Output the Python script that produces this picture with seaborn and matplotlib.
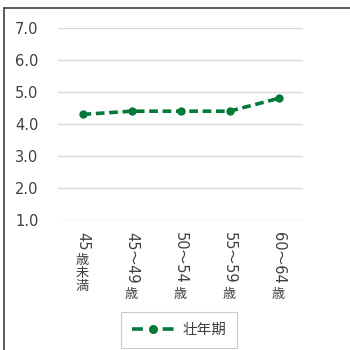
import matplotlib
matplotlib.use("Agg")
import matplotlib.pyplot as plt
from matplotlib.lines import Line2D
import seaborn as sns
import pandas as pd

# --- Data ---
age_groups = ["45歳未満", "45～49歳", "50～54歳", "55～59歳", "60～64歳"]
label_rotated = ["45", "45～49", "50～54", "55～59", "60～64"]
label_upright = ["歳\n未\n満", "歳", "歳", "歳", "歳"]
values = [4.3, 4.4, 4.4, 4.4, 4.8]
series_name = "壮年期"
y_ticks = [1.0, 2.0, 3.0, 4.0, 5.0, 6.0, 7.0]

df = pd.DataFrame({"age": age_groups, "value": values})

# --- Style ---
sns.set_style("white")
plt.rcParams["font.family"] = ["DejaVu Sans", "Noto Sans CJK JP"]
green = "#007a36"
text_color = "#404040"

fig = plt.figure(figsize=(3.5, 3.5), dpi=100)
ax = fig.add_axes([58 / 350, 1 - 220 / 350, 245 / 350, 192 / 350])

sns.lineplot(data=df, x="age", y="value", ax=ax, color=green, sort=False,
             marker="o", markersize=6, markeredgewidth=0, linewidth=2.6,
             linestyle=(0, (2.4, 1.3)), label=series_name, legend=False)

# --- Axes ---
ax.set_xlim(-0.5, len(age_groups) - 0.5)
ax.set_ylim(1.0, 7.0)
ax.set_yticks(y_ticks)
ax.set_yticklabels([f"{v:.1f}" for v in y_ticks], fontsize=10.5, color=text_color)
ax.tick_params(axis="y", length=0, pad=14)
ax.set_xticks([])
ax.set_xlabel("")
ax.set_ylabel("")
ax.grid(axis="y", color="#d9d9d9", linewidth=1)
for s in ax.spines.values():
    s.set_visible(False)

# Vertical category labels: digits rotated, kanji upright
for i, (rot, up) in enumerate(zip(label_rotated, label_upright)):
    t = ax.annotate(rot, xy=(i, 0), xycoords=("data", "axes fraction"),
                    xytext=(0, -8.5), textcoords="offset points",
                    rotation=-90, ha="center", va="top", fontsize=10.5,
                    color=text_color)
    ax.annotate(up, xy=(0.5, 0), xycoords=t, xytext=(0, -3),
                textcoords="offset points", ha="center", va="top",
                fontsize=9.5, color=text_color, linespacing=1.0,
                family=["Noto Sans CJK JP", "DejaVu Sans"])

# --- Legend ---
handle = Line2D([], [], color=green, marker="o", markersize=6.5, markeredgewidth=0,
                linewidth=2.6, linestyle=(0, (3.0, 5.5)))
leg = fig.legend([handle], [series_name], loc="center",
                 bbox_to_anchor=(179 / 350, 1 - 330 / 350), fancybox=False,
                 handlelength=2.9, handletextpad=0.6, borderpad=0.75,
                 borderaxespad=0, labelcolor=text_color,
                 prop={"family": ["Noto Sans CJK JP", "DejaVu Sans"], "size": 10.5})
leg.get_frame().set_edgecolor("#bfbfbf")
leg.get_frame().set_linewidth(0.8)

# --- Outer chart border (left and top visible) ---
fig.add_artist(Line2D([4 / 350, 4 / 350], [0, 1 - 8 / 350], color="#404040", linewidth=1.2))
fig.add_artist(Line2D([4 / 350, 1], [1 - 8 / 350, 1 - 8 / 350], color="#404040", linewidth=1.2))

fig.savefig("out.png", dpi=100)
